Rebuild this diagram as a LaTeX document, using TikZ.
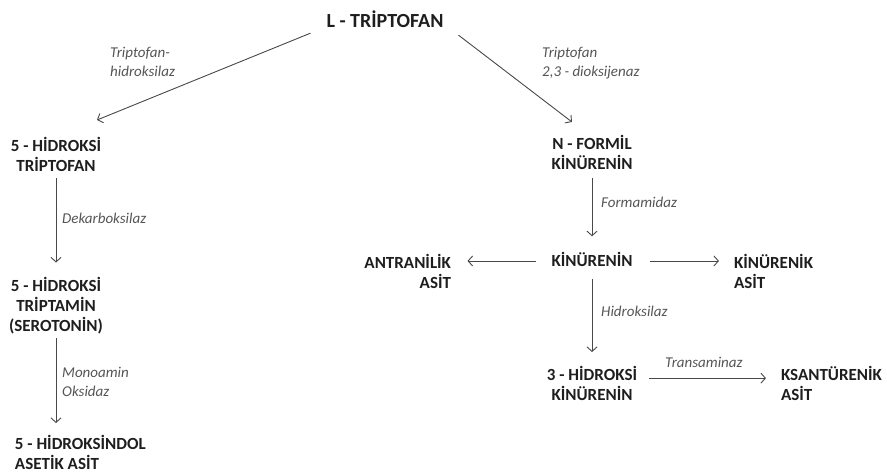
\documentclass[tikz,border=0pt]{standalone}
\usepackage{fontspec}
\setmainfont{Carlito}
\usetikzlibrary{arrows.meta}

\definecolor{molgray}{HTML}{1E1E1E}
\definecolor{enzgray}{HTML}{555555}
\definecolor{arrgray}{HTML}{484848}

\tikzset{
	molecule/.style={inner sep=0pt, outer sep=0pt, text=molgray, font=\bfseries\fontsize{17}{20}\selectfont},
	enzyme/.style={inner sep=0pt, anchor=base west, align=left, text=enzgray, font=\itshape\fontsize{15}{19}\selectfont},
	reaction/.style={draw=arrgray, line width=0.9pt, -{Straight Barb[length=4.5pt,width=10pt]}}
}

\begin{document}
\begin{tikzpicture}[x=1pt, y=-1pt]
	\useasboundingbox (0,0) rectangle (887,474);

	\node[molecule, font=\bfseries\fontsize{20}{24}\selectfont, anchor=base] (trp) at (385,27) {L - TRİPTOFAN};

	\node[molecule, align=center, anchor=north] (htrp) at (56,137) {5 - HİDROKSİ\\TRİPTOFAN};
	\node[molecule, align=center, anchor=north] (sero) at (56,277.5) {5 - HİDROKSİ\\TRİPTAMİN\\(SEROTONİN)};
	\node[molecule, align=left, anchor=north west] (hiaa) at (15,435) {5 - HİDROKSİNDOL\\ASETİK ASİT};

	\node[molecule, align=center, anchor=north] (nfk) at (592,135.5) {N - FORMİL\\KİNÜRENİN};
	\node[molecule, anchor=base] (kyn) at (592,266) {KİNÜRENİN};
	\node[molecule, align=right, anchor=north east] (aa) at (451,254) {ANTRANİLİK\\ASİT};
	\node[molecule, align=left, anchor=north west] (ka) at (734,254) {KİNÜRENİK\\ASİT};
	\node[molecule, align=center, anchor=north] (hk) at (592,366) {3 - HİDROKSİ\\KİNÜRENİN};
	\node[molecule, align=left, anchor=north west] (xa) at (781,366) {KSANTÜRENİK\\ASİT};

	% enzimler
	\node[enzyme] (tphlbl) at (110,76) {Triptofan-\\hidroksilaz};
	\node[enzyme] (tdolbl) at (542,76) {Triptofan\\2,3 - dioksijenaz};
	\node[enzyme] (ddclbl) at (62,223) {Dekarboksilaz};
	\node[enzyme] (maolbl) at (62,396) {Monoamin\\Oksidaz};
	\node[enzyme] (fmdlbl) at (601,207) {Formamidaz};
	\node[enzyme] (hydlbl) at (601,316) {Hidroksilaz};
	\node[enzyme] (tamlbl) at (665,367) {Transaminaz};

	\draw[reaction] ([shift={(-16,6)}]trp.south west) -- ([shift={(41,-17)}]htrp.north);
	\draw[reaction] ([shift={(15,8)}]trp.south east) -- ([shift={(-20,-13.5)}]nfk.north);

	\draw[reaction, shorten <=7pt, shorten >=15pt] (htrp.south) -- (sero.north);
	\draw[reaction, shorten <=4pt, shorten >=12pt] (sero.south) -- (hiaa.north -| sero.south);

	\draw[reaction, shorten <=8pt, shorten >=15.5pt] (nfk.south) -- (kyn.north);
	\draw[reaction, shorten <=16pt, shorten >=16.5pt] ([yshift=-2pt]kyn.west) -- ([yshift=-2pt]kyn.west -| aa.east);
	\draw[reaction, shorten <=18pt, shorten >=15pt] ([yshift=-2pt]kyn.east) -- ([yshift=-2pt]kyn.east -| ka.west);
	\draw[reaction, shorten <=13pt, shorten >=14pt] (kyn.south) -- (hk.north);
	\draw[reaction, shorten <=12pt, shorten >=15pt] ([yshift=5pt]hk.east) -- ([yshift=5pt]hk.east -| xa.west);
\end{tikzpicture}
\end{document}
